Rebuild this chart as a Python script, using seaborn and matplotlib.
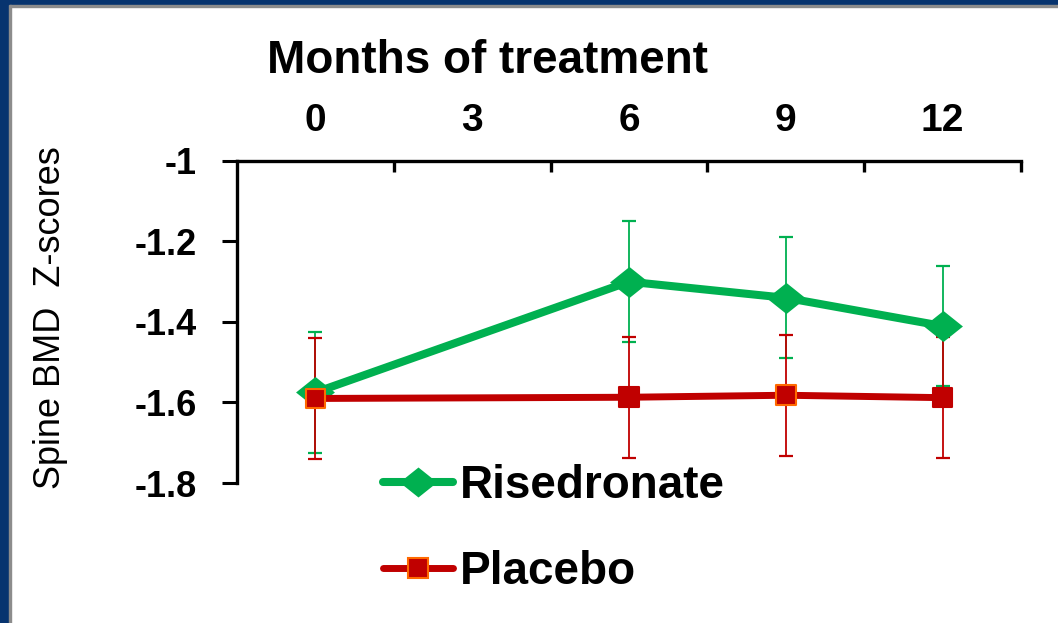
import matplotlib
matplotlib.use('Agg')
import matplotlib.pyplot as plt
from matplotlib.lines import Line2D
from matplotlib.patches import Rectangle
from matplotlib.ticker import FixedLocator
import pandas as pd
import seaborn as sns

# values
months = [0, 6, 9, 12]
risedronate = [-1.575, -1.30, -1.34, -1.41]
risedronate_err = [0.15, 0.15, 0.15, 0.15]
placebo = [-1.59, -1.587, -1.582, -1.588]
placebo_err = [0.15, 0.15, 0.15, 0.15]
x_ticks = [0, 3, 6, 9, 12]
y_ticks = [-1.0, -1.2, -1.4, -1.6, -1.8]
y_labels = ['-1', '-1.2', '-1.4', '-1.6', '-1.8']

GREEN = '#00B050'
RED = '#C00000'
ORANGE = '#FF6A00'
placebo_edges = [ORANGE, RED, ORANGE, RED]
DIAMOND = [(-1, 0), (0, 0.8), (1, 0), (0, -0.8), (-1, 0)]

sns.set_theme(style='white')
plt.rcParams['font.family'] = ['Liberation Sans', 'DejaVu Sans']
plt.rcParams.update({'text.color': 'black', 'axes.labelcolor': 'black',
                     'xtick.color': 'black', 'ytick.color': 'black'})

df = pd.DataFrame({
    'month': months * 2,
    'z': risedronate + placebo,
    'err': risedronate_err + placebo_err,
    'group': ['Risedronate'] * len(months) + ['Placebo'] * len(months),
})
ris = df[df.group == 'Risedronate']
pla = df[df.group == 'Placebo']

fig = plt.figure(figsize=(10.58, 6.23), dpi=100)
ax = fig.add_axes([0.224, 0.2247, 0.741, 0.517])

# error bars underneath everything
ax.errorbar(ris.month, ris.z, yerr=ris.err, fmt='none', ecolor=GREEN,
            elinewidth=1.3, capsize=5, capthick=1.6, zorder=1)
ax.errorbar(pla.month, pla.z, yerr=pla.err, fmt='none', ecolor=RED,
            elinewidth=1.3, capsize=5, capthick=1.6, zorder=1)

sns.lineplot(data=ris, x='month', y='z', ax=ax, color=GREEN, lw=5.8,
             marker=DIAMOND, markersize=28, markeredgewidth=0,
             errorbar=None, legend=False, zorder=3)
sns.lineplot(data=pla, x='month', y='z', ax=ax, color=RED, lw=5.0,
             errorbar=None, legend=False, zorder=4)
ax.scatter(pla.month, pla.z, marker='s', s=200, c=RED,
           edgecolors=placebo_edges, linewidths=1.5, zorder=5)

ax.set_xlim(-1.5, 13.5)
ax.set_ylim(-1.8, -1.0)

# x axis on top, categories centred between inward tick marks
ax.xaxis.tick_top()
ax.xaxis.set_label_position('top')
ax.set_xticks(x_ticks)
ax.set_xticklabels([str(m) for m in x_ticks], fontsize=28, fontweight='bold')
ax.xaxis.set_minor_locator(FixedLocator([1.5, 4.5, 7.5, 10.5, 13.5]))
ax.tick_params(axis='x', which='major', length=0, pad=16)
ax.tick_params(axis='x', which='minor', direction='in', length=8, width=2.4,
               top=True, bottom=False, color='black')

ax.set_yticks(y_ticks)
ax.set_yticklabels(y_labels, fontsize=26, fontweight='bold')
ax.tick_params(axis='y', which='major', direction='out', length=11, width=2.2,
               left=True, pad=18, color='black')

ax.set_xlabel('Months of treatment', fontsize=33, fontweight='bold')
ax.xaxis.set_label_coords(0.319, 1.31)
ax.xaxis.label.set_va('center')
ax.set_ylabel('Spine BMD  Z-scores', fontsize=26)
ax.yaxis.set_label_coords(-0.2385, 0.513)
ax.yaxis.label.set_va('center')

for side in ['right', 'bottom']:
    ax.spines[side].set_visible(False)
for side in ['top', 'left']:
    ax.spines[side].set_color('black')
    ax.spines[side].set_linewidth(2.4)

handles = [
    Line2D([], [], color=GREEN, lw=5.8, marker=DIAMOND, markersize=27,
           markeredgewidth=0, solid_capstyle='round'),
    Line2D([], [], color=RED, lw=5.0, marker='s', markersize=14,
           markerfacecolor=RED, markeredgecolor=ORANGE, markeredgewidth=1.5,
           solid_capstyle='round'),
]
fig.legend(handles, ['Risedronate', 'Placebo'], loc='center left',
           bbox_to_anchor=(0.362, 0.151), frameon=False, borderpad=0,
           borderaxespad=0, handlelength=1.53, handletextpad=0.15,
           labelspacing=0.93, prop={'size': 33, 'weight': 'bold'})

# slide frame: dark blue band on the top and left edges
W, H = 1058, 623
fig.patches.extend([
    Rectangle((0, 1 - 5 / H), 1, 5 / H, transform=fig.transFigure,
              color='#07346F', zorder=10),
    Rectangle((0, 1 - 7 / H), 1, 2 / H, transform=fig.transFigure,
              color='#8C8C8C', zorder=10),
    Rectangle((0, 0), 9 / W, 1, transform=fig.transFigure,
              color='#07346F', zorder=11),
    Rectangle((9 / W, 0), 2 / W, 1 - 5 / H, transform=fig.transFigure,
              color='#8C8C8C', zorder=11),
])

fig.savefig('out.png', dpi=100, facecolor='white')
